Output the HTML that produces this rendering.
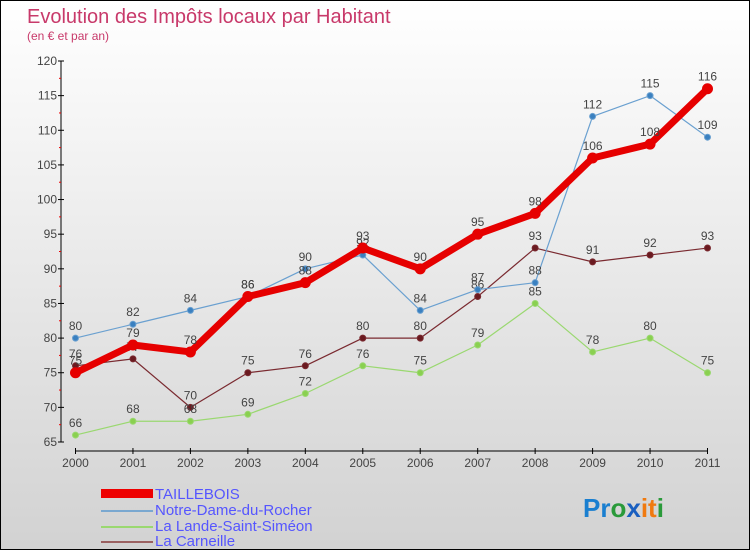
<!DOCTYPE html>
<html><head><meta charset="utf-8"><style>
body{margin:0}
#c{width:748px;height:548px;border:1px solid #000;background:linear-gradient(#fff,#d2d2d2);position:relative;font-family:"Liberation Sans",sans-serif;overflow:hidden}
</style></head><body>
<div id="c">
<svg id="s" width="748" height="548" xmlns="http://www.w3.org/2000/svg">
<text x="26" y="22" font-size="20" fill="#c8396a">Evolution des Impôts locaux par Habitant</text>
<text x="26" y="39" font-size="12" fill="#c8396a">(en € et par an)</text>
<g id="axes"></g><g id="series"></g>
<g>
<rect x="100" y="488" width="52" height="9" fill="#e00"/>
<text x="154" y="498" font-size="15" fill="#55f">TAILLEBOIS</text>
<line x1="100" y1="510" x2="152" y2="510" stroke="#7aa8d0" stroke-width="2"/>
<text x="154" y="514" font-size="15" fill="#55f">Notre-Dame-du-Rocher</text>
<line x1="100" y1="526" x2="152" y2="526" stroke="#9ad870" stroke-width="2"/>
<text x="154" y="530" font-size="15" fill="#55f">La Lande-Saint-Siméon</text>
<line x1="100" y1="541" x2="152" y2="541" stroke="#9a6060" stroke-width="2"/>
<text x="154" y="545" font-size="15" fill="#55f">La Carneille</text>
</g>
<text x="582" y="516" font-size="26" font-weight="bold"><tspan fill="#1a7fd0">Pr</tspan><tspan fill="#2a9a3a">o</tspan><tspan fill="#1a5fc0">x</tspan><tspan fill="#f07a10">it</tspan><tspan fill="#2a9a3a">i</tspan></text>
</svg></div>
<script>
const years=[2000,2001,2002,2003,2004,2005,2006,2007,2008,2009,2010,2011];
const yTicks=[65,70,75,80,85,90,95,100,105,110,115,120];
const taillebois=[75,79,78,86,88,93,90,95,98,106,108,116];
const notreDame=[80,82,84,86,90,92,84,87,88,112,115,109];
const laLande=[66,68,68,69,72,76,75,79,85,78,80,75];
const laCarneille=[76,77,70,75,76,80,80,86,93,91,92,93];
const NS="http://www.w3.org/2000/svg";
const X=i=>74.5+i*(706.5-74.5)/11;
const Y=v=>441-(v-65)*(381/55);
function mk(t,a,p){const e=document.createElementNS(NS,t);for(const k in a)e.setAttribute(k,a[k]);p.appendChild(e);return e;}
const ax=document.getElementById('axes');
let l=mk('line',{x1:60,y1:Y(120),x2:60,y2:Y(65),stroke:'#000'},ax);


l=mk('line',{x1:74,y1:450,x2:707,y2:450,stroke:'#000'},ax);


yTicks.forEach(v=>{mk('line',{x1:57,y1:Y(v),x2:63,y2:Y(v),stroke:'#000'},ax);
 if(v<120)mk('line',{x1:58,y1:Y(v+2.5),x2:60,y2:Y(v+2.5),stroke:'#e00'},ax);
 const t=mk('text',{x:56,y:Y(v)+4,'font-size':12,fill:'#444','text-anchor':'end'},ax);t.textContent=v;
 
 });
years.forEach((y,i)=>{mk('line',{x1:X(i),y1:447,x2:X(i),y2:453,stroke:'#000'},ax);
 const t=mk('text',{x:X(i),y:466,'font-size':12,fill:'#444','text-anchor':'middle'},ax);t.textContent=y;
 
 });
const sg=document.getElementById('series');
function draw(data,name,col,dot,w,r){
 const g=mk('g',{},sg);
 
 
 mk('polyline',{points:data.map((v,i)=>X(i)+','+Y(v)).join(' '),fill:'none',stroke:col,'stroke-width':w,'stroke-linejoin':'round'},g);
 data.forEach((v,i)=>{const c=mk('circle',{cx:X(i),cy:Y(v),r:r,fill:dot,stroke:col},g);
  
  
  const t=mk('text',{x:X(i),y:Y(v)-8,'font-size':12,fill:'#444','text-anchor':'middle'},g);t.textContent=v;
  
  });
}
draw(laCarneille,'la-carneille','#7a2a30','#6a1a20',1.2,3);
draw(laLande,'la-lande','#9ad870','#8ad050',1.2,3);
draw(notreDame,'notre-dame','#6aa0d0','#3a80c0',1.2,3);
draw(taillebois,'taillebois','#e60000','#e60000',7,5);
</script>
</body></html>
